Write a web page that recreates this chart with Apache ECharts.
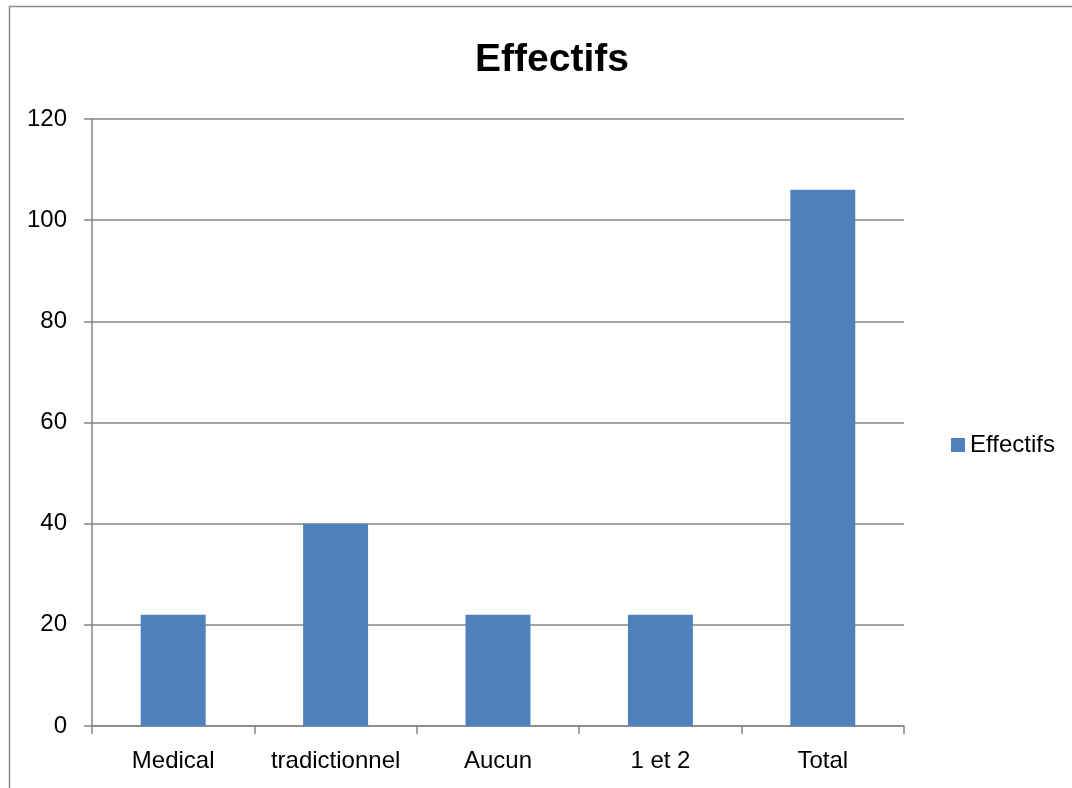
<!DOCTYPE html>
<html>
<head>
<meta charset="utf-8">
<script src="https://cdn.jsdelivr.net/npm/echarts@6/dist/echarts.min.js"></script>
<style>
  html, body { margin: 0; padding: 0; background: #fff; }
  #chart { width: 1072px; height: 788px; }
</style>
</head>
<body>
<div id="chart"></div>
<script>
// categories and values
var categories = ['Medical', 'tradictionnel', 'Aucun', '1 et 2', 'Total'];
var effectifs = [22, 40, 22, 22, 106];
var yTicks = [0, 20, 40, 60, 80, 100, 120];

var font = 'Liberation Sans';

var chart = echarts.init(document.getElementById('chart'));
chart.setOption({
    animation: false,
    backgroundColor: '#fff',
    // outer chart frame (only top and left edges are visible)
    graphic: [{
        type: 'rect',
        shape: { x: 9.5, y: 6.5, width: 1100, height: 820 },
        style: { fill: 'none', stroke: '#8c8c8c', lineWidth: 1.5 },
        silent: true
    }],
    title: {
        text: 'Effectifs',
        left: 547,
        top: 36,
        textAlign: 'center',
        textStyle: { fontFamily: font, fontSize: 39, fontWeight: 'bold', color: '#000' }
    },
    legend: {
        data: ['Effectifs'],
        orient: 'vertical',
        left: 946,
        top: 428,
        itemWidth: 14,
        itemHeight: 14,
        itemGap: 6,
        icon: 'rect',
        textStyle: { fontFamily: font, fontSize: 24, color: '#000' }
    },
    grid: { left: 92, right: 168, top: 119, bottom: 62 },
    xAxis: {
        type: 'category',
        data: categories,
        axisLine: { lineStyle: { color: '#868686', width: 1.5 } },
        axisTick: { show: true, interval: 0, alignWithLabel: false, length: 8, lineStyle: { color: '#868686', width: 1.5 } },
        axisLabel: { interval: 0, fontFamily: font, fontSize: 24, color: '#000', margin: 23 }
    },
    yAxis: {
        type: 'value',
        min: yTicks[0],
        max: yTicks[yTicks.length - 1],
        interval: yTicks[1] - yTicks[0],
        axisLine: { show: true, lineStyle: { color: '#868686', width: 1.5 } },
        axisTick: { show: true, length: 8, lineStyle: { color: '#868686', width: 1.5 } },
        splitLine: { lineStyle: { color: '#868686', width: 1.5 } },
        axisLabel: { fontFamily: font, fontSize: 24, color: '#000', margin: 25 }
    },
    series: [{
        name: 'Effectifs',
        type: 'bar',
        data: effectifs,
        barWidth: '40%',
        itemStyle: { color: '#4F81BD' }
    }]
});
</script>
</body>
</html>
